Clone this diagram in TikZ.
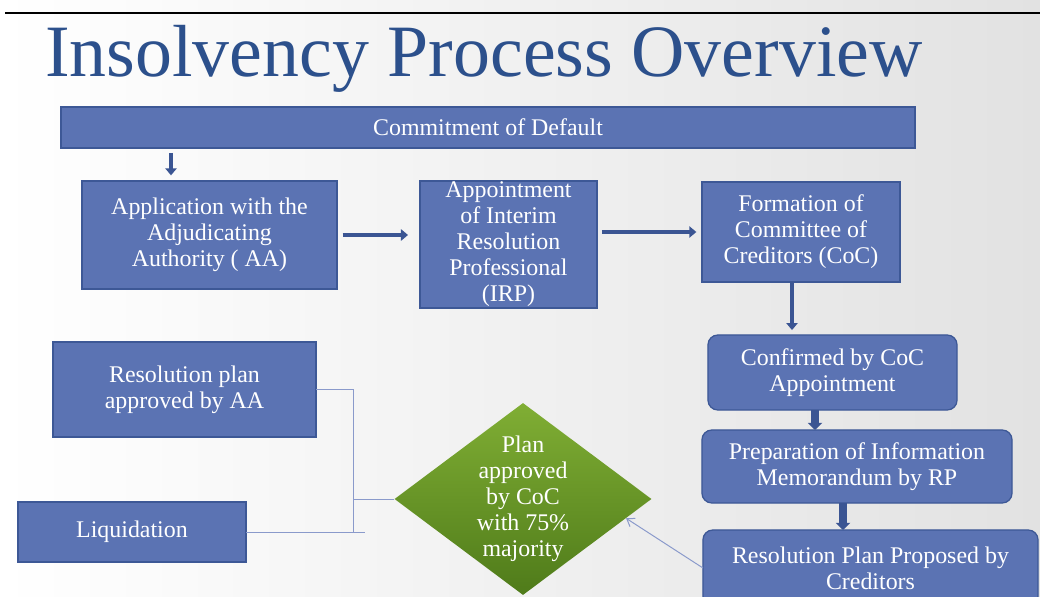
\documentclass[tikz,border=0pt]{standalone}
\usepackage{fontspec}
\setmainfont{Liberation Serif}
\usepackage{tikz}
\usetikzlibrary{arrows.meta,positioning,shapes.geometric,calc}
\definecolor{figblue}{HTML}{5B73B3}
\definecolor{figedge}{HTML}{3D5896}
\definecolor{figtitle}{HTML}{2C508C}
\definecolor{figarrow}{HTML}{3B5593}
\definecolor{figthin}{HTML}{8A9ACB}
\definecolor{figgreen}{HTML}{80AE34}
\definecolor{figgreendark}{HTML}{4F7B1A}
\definecolor{figbg}{HTML}{E2E2E2}
\newcommand{\stagefont}{\fontsize{17}{18.5}\selectfont}

\begin{document}
\begin{tikzpicture}[x=0.025cm, y=-0.025cm, font=\stagefont,
  stage/.style={draw=figedge, fill=figblue, line width=0.9pt, text=white, align=center,
                inner xsep=2pt, inner ysep=0pt, outer sep=0pt},
  softstage/.style={stage, rounded corners=7pt},
  decide/.style={diamond, aspect=1.34, top color=figgreen, bottom color=figgreendark,
                 text=white, align=center, inner sep=-3pt, minimum width=6.425cm, minimum height=4.8cm},
  flow/.style={draw=figarrow, line width=3pt, -{Triangle[width=8pt,length=5pt]}},
  fatflow/.style={draw=figarrow, line width=5pt, -{Triangle[width=10pt,length=5pt]}},
  link/.style={draw=figthin, line width=0.7pt},
  headline/.style={font=\fontsize{52.5}{60}\selectfont, text=figtitle, inner sep=0pt, anchor=base west}]
\clip (0,0) rectangle (1040,597);
\shade[left color=white, middle color=white, right color=figbg] (0,0) rectangle (1040,597);
\draw[line width=1.4pt] (5,13) -- (1040,13);
\node[headline] (head) at (45,77) {Insolvency Process Overview};
% top row
\node[stage, minimum width=21.35cm, minimum height=1.025cm] (default) at (488,127.5) {Commitment of Default};
\node[stage, minimum width=6.375cm, minimum height=2.7cm]   (app)  at (209.5,235)  {Application with the\\Adjudicating\\Authority ( AA)};
\node[stage, minimum width=4.425cm, minimum height=3.175cm] (irp)  at (508.5,244.5) {Appointment\\of Interim\\Resolution\\Professional\\(IRP)};
\node[stage, minimum width=4.95cm, minimum height=2.5cm]    (coc)  at (801,232)    {Formation of\\Committee of\\Creditors (CoC)};
% right column
\node[softstage, minimum width=6.225cm, minimum height=1.875cm] (confirm)  at (832.5,372.5) {Confirmed by CoC\\Appointment};
\node[softstage, minimum width=7.75cm, minimum height=1.825cm]  (prep)     at (857,466.5)   {Preparation of Information\\Memorandum by RP};
\node[softstage, minimum width=8.375cm, minimum height=1.9cm]   (proposed) at (870.5,568)   {Resolution Plan Proposed by\\Creditors};
% decision and outcomes
\node[decide] (plan) at (523,499) {Plan\\approved\\by CoC\\with 75\%\\majority};
\node[stage, minimum width=6.575cm, minimum height=2.375cm] (approved) at (184.5,389.5) {Resolution plan\\approved by AA};
\node[stage, minimum width=5.7cm, minimum height=1.5cm]     (liquid)   at (132,532)     {Liquidation};
% connectors
\draw[flow, shorten <=3.5pt, shorten >=4pt] (default.south -| 171,0) -- (app.north -| 171,0);
\draw[flow, shorten <=4pt, shorten >=8.5pt] (app.east) -- (app.east -| irp.west);
\draw[flow, shorten <=3.5pt, shorten >=4pt] (coc.west -| irp.east) -- (coc.west);
\draw[flow, shorten >=3.5pt] (coc.south -| 792,0) -- (confirm.north -| 792,0);
\draw[fatflow] (confirm.south -| 815,0) -- (prep.north -| 815,0);
\draw[fatflow] (prep.south -| 843,0) -- (proposed.north -| 843,0);
\draw[link, -{Straight Barb[length=5pt,width=7pt]}] (proposed.west) -- ($(plan.east)!0.2!(plan.south)$);
\draw[link] (approved.east) -- ++(37,0) coordinate (fork) -- (fork |- liquid.east);
\draw[link] (liquid.east) -- ++(119,0);
\draw[link] (plan.west) -- (plan.west -| fork);
\end{tikzpicture}
\end{document}
